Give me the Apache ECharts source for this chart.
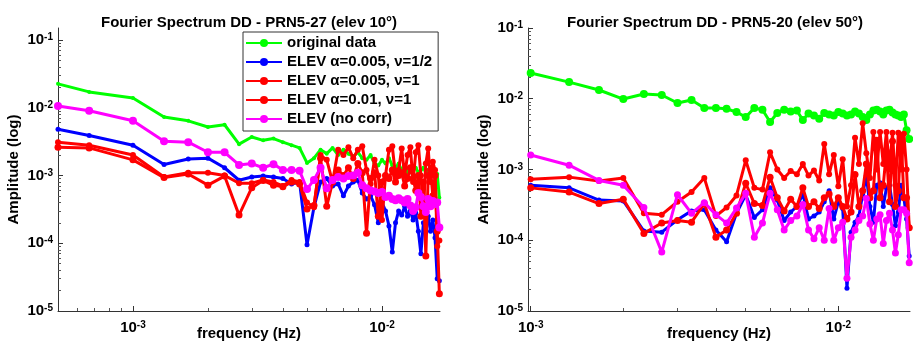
<!DOCTYPE html>
<html><head><meta charset="utf-8">
<script src="https://cdn.jsdelivr.net/npm/echarts@6/dist/echarts.min.js"></script>
<style>html,body{margin:0;padding:0;background:#fff}#c{width:913px;height:344px}</style>
</head><body><div id="c"></div>
<script>
// frequencies (Hz)
const freqL = [0.0005,0.000667,0.001,0.001333,0.001667,0.002,0.002333,0.002667,0.003,0.003333,0.003667,0.004,0.004333,0.004667,0.005,0.005333,0.005667,0.006,0.006333,0.006667,0.007,0.007333,0.007667,0.008,0.008333,0.008667,0.009,0.009333,0.009667,0.01,0.010333,0.010667,0.011,0.011333,0.011667,0.012,0.012333,0.012667,0.013,0.013333,0.013667,0.014,0.014333,0.014667,0.015,0.015333,0.015667,0.016,0.016333,0.016667,0.017];
const freqR = [0.001,0.001333,0.001667,0.002,0.002333,0.002667,0.003,0.003333,0.003667,0.004,0.004333,0.004667,0.005,0.005333,0.005667,0.006,0.006333,0.006667,0.007,0.007333,0.007667,0.008,0.008333,0.008667,0.009,0.009333,0.009667,0.01,0.010333,0.010667,0.011,0.011333,0.011667,0.012,0.012333,0.012667,0.013,0.013333,0.013667,0.014,0.014333,0.014667,0.015,0.015333,0.015667,0.016,0.016333,0.016667,0.017];

const seriesNames = ['original data','ELEV \u03b1=0.005, \u03bd=1/2','ELEV \u03b1=0.005, \u03bd=1','ELEV \u03b1=0.01, \u03bd=1','ELEV (no corr)'];

// Left panel: PRN5-27 (elev 10°)
const greenL = [0.0225,0.0171,0.0139,0.0073,0.0064,0.0052,0.0056,0.0029,0.0037,0.0033,0.0035,0.0031,0.0028,0.00255,0.00153,0.0018,0.0024,0.0021,0.00255,0.0020,0.0024,0.0021,0.0019,0.0022,0.0018,0.0017,0.0020,0.0015,0.0014,0.0017,0.0015,0.0018,0.0014,0.0013,0.0015,0.0012,0.0014,0.0011,0.0013,0.0012,0.0013,0.0011,0.0012,0.0013,0.0011,0.0012,0.0012,0.0010,0.0011,0.00105,0.00047];
const blueL = [0.0048,0.0039,0.0028,0.00145,0.00175,0.0018,0.0013,0.00085,0.00095,0.00098,0.00095,0.0009,0.00075,0.0008,0.000095,0.00034,0.0008,0.0009,0.0007,0.00075,0.0005,0.0007,0.0008,0.00085,0.00055,0.00045,0.0005,0.00037,0.0002,0.0004,0.0003,0.00018,0.000074,0.0002,0.0003,0.00026,0.00035,0.00025,0.0003,0.00022,0.00028,0.00015,0.00007,0.0002,0.00018,0.00025,0.00015,0.00022,0.00012,0.00003,0.000028];
const red1L = [0.0031,0.0028,0.0020,0.00095,0.0011,0.0011,0.0010,0.00077,0.00077,0.00086,0.0008,0.0007,0.00086,0.0008,0.0004,0.00034,0.0020,0.0017,0.0008,0.0024,0.0020,0.0026,0.0018,0.0024,0.0027,0.0012,0.00075,0.0017,0.0010,0.00022,0.0010,0.0024,0.0027,0.0010,0.0012,0.0025,0.0010,0.0020,0.0026,0.0008,0.0022,0.0028,0.0010,0.0003,0.0015,0.0025,0.0008,0.0016,0.0012,0.00009,0.00011];
const red2L = [0.0026,0.00255,0.0017,0.00093,0.00105,0.00072,0.00098,0.00026,0.00066,0.00084,0.00072,0.00068,0.0008,0.00075,0.00032,0.00036,0.0018,0.00035,0.0008,0.0012,0.0010,0.0013,0.0009,0.0015,0.0011,0.00014,0.0009,0.0011,0.00025,0.0008,0.0010,0.0009,0.0012,0.0008,0.0010,0.0011,0.0007,0.0009,0.0013,0.0009,0.0006,0.0010,0.00025,0.0008,0.000065,0.0010,0.0012,0.0005,0.0010,0.00015,0.000018];
const magentaL = [0.0106,0.0090,0.0064,0.0032,0.0031,0.0022,0.0022,0.00143,0.0015,0.0013,0.00147,0.0012,0.0012,0.00117,0.00063,0.00086,0.0013,0.00065,0.00086,0.00095,0.0009,0.00098,0.0010,0.0011,0.00072,0.00065,0.0006,0.00058,0.00055,0.00057,0.00048,0.0005,0.00045,0.00043,0.00046,0.00043,0.0004,0.00045,0.00036,0.0003,0.00034,0.00055,0.00048,0.00035,0.00029,0.00045,0.00035,0.00042,0.00038,0.0004,0.00017];

// Right panel: PRN5-20 (elev 50°)
const greenR = [0.0231,0.0172,0.0133,0.0099,0.0117,0.0113,0.0087,0.0096,0.0074,0.0074,0.0072,0.0065,0.0055,0.0074,0.0070,0.0047,0.0063,0.0070,0.0066,0.0068,0.0050,0.0062,0.0058,0.0052,0.0063,0.0060,0.0058,0.0065,0.0062,0.0058,0.0060,0.0066,0.0062,0.0055,0.0050,0.0060,0.0068,0.0070,0.0066,0.0060,0.0068,0.0070,0.0064,0.0060,0.0058,0.0055,0.0060,0.0036,0.0027];
const blueR = [6.0e-4,5.5e-4,3.7e-4,3.6e-4,1.35e-4,1.3e-4,1.95e-4,2.6e-4,2.7e-4,1.4e-4,9.5e-5,2.4e-4,4.4e-4,2.1e-4,2.7e-4,5.5e-4,3.7e-4,1.9e-4,2.5e-4,3e-4,4.5e-4,2e-4,2.2e-4,2.5e-4,3.5e-4,5e-4,2e-4,3.5e-4,2.8e-4,2.1e-5,1.3e-4,1.8e-4,2.2e-4,4.5e-4,8.2e-4,3e-4,1.8e-4,6e-4,6.5e-4,3e-4,5.5e-4,6e-4,3.2e-4,1.6e-4,2.5e-4,6e-4,4e-4,2e-4,6e-5];
const red1R = [7.3e-4,7.8e-4,6.9e-4,7.6e-4,2.4e-4,2.3e-4,3.5e-4,4.8e-4,7.6e-4,2.2e-4,2.9e-4,4.3e-4,1.35e-3,5.5e-4,5.2e-4,1.75e-3,1.0e-3,7.6e-4,9.5e-4,8.6e-4,1.2e-3,8.2e-4,9.7e-4,7e-4,2.3e-3,8.6e-4,1.6e-3,5.8e-4,1.4e-3,3e-4,6e-4,2.8e-3,1.2e-3,4.5e-3,1.7e-3,7.6e-4,3.4e-3,1.0e-3,3.4e-3,1.2e-3,3.4e-3,1.0e-3,3.3e-3,6e-4,3.3e-3,1.0e-3,3.2e-3,1e-3,1.5e-4];
const red2R = [5.5e-4,4.8e-4,3.3e-4,3.8e-4,1.25e-4,1.75e-4,1.9e-4,1.8e-4,3.3e-4,1.1e-4,1.4e-4,2.4e-4,6.4e-4,3.3e-4,3.1e-4,7.8e-4,4e-4,2.6e-4,3.8e-4,3e-4,5.5e-4,3e-4,3.5e-4,2.8e-4,4e-4,4.5e-4,3e-4,4e-4,3e-4,2e-4,2.5e-4,8.5e-4,3e-4,5e-4,1.2e-3,4e-4,5e-4,2.6e-3,4e-4,6e-4,1.8e-3,3.5e-4,2.5e-3,3e-4,5e-4,3.0e-3,4e-4,4e-4,1.5e-4];
const magentaR = [1.6e-3,1.15e-3,7e-4,6e-4,2.9e-4,6.8e-5,4.4e-4,2.4e-4,3.4e-4,2.3e-4,1.75e-4,2.85e-4,4.6e-4,1.1e-4,1.75e-4,4.6e-4,2.7e-4,1.4e-4,1.9e-4,2.2e-4,3.2e-4,1.4e-4,1.05e-4,1.5e-4,1e-4,2.8e-4,1e-4,1.5e-4,1.8e-4,2.9e-5,1.1e-4,1.4e-4,1.9e-4,2.2e-4,3.9e-4,1.7e-4,1e-4,2e-4,2.3e-4,9e-5,1.9e-4,2.4e-4,1.4e-4,6.6e-5,1.2e-4,2.7e-4,2.7e-4,2.4e-4,4.8e-5];

// tick labels
const yMajor = [1e-5,1e-4,1e-3,1e-2,1e-1];
const xMajorL = [1e-3,1e-2];
const xMajorR = [1e-3,1e-2];

const FONT = '"Liberation Sans", Arial, sans-serif';
const colors = ['#00ff00','#0000ff','#ff0000','#ff0000','#ff00ff'];

function minorTicks(lo, hi){
  const out=[];
  for(let e=-6;e<=0;e++){for(let m=2;m<=9;m++){const v=m*Math.pow(10,e); if(v>lo*1.0001 && v<hi*0.9999) out.push(v);}}
  return out;
}
const rich = {
  b:{fontFamily:FONT,fontWeight:'bold',fontSize:15,color:'#000',verticalAlign:'bottom'},
  s:{fontFamily:FONT,fontWeight:'bold',fontSize:10,color:'#000',verticalAlign:'top'}
};
function fmt(v){const e=Math.round(Math.log10(v));return '{b|10}{s|'+e+'}';}

const LX = {min:0.0005,max:0.0171}, RX={min:0.00098,max:0.0171};
const LY = {min:1e-5,max:0.15}, RY={min:1e-5,max:0.1};

function mainX(grid, r, majors){
  return {type:'log',gridIndex:grid,min:r.min,max:r.max,logBase:10,
    name:'frequency (Hz)',nameLocation:'middle',nameGap:15,nameMoveOverlap:false,
    nameTextStyle:{fontFamily:FONT,fontWeight:'bold',fontSize:15,color:'#000'},
    axisLine:{show:true,onZero:false,lineStyle:{color:'#333',width:1}},
    axisTick:{show:true,inside:true,length:5,customValues:majors,lineStyle:{color:'#333'}},
    axisLabel:{show:true,margin:9,customValues:majors,formatter:fmt,rich:rich},
    splitLine:{show:false},minorTick:{show:false}};
}
function minorX(grid, r){
  return {type:'log',gridIndex:grid,min:r.min,max:r.max,logBase:10,position:'bottom',
    axisLine:{show:false,onZero:false},axisLabel:{show:false},
    axisTick:{show:true,inside:true,length:3,customValues:minorTicks(r.min,r.max),lineStyle:{color:'#555'}},
    splitLine:{show:false}};
}
function mainY(grid, r){
  return {type:'log',gridIndex:grid,min:r.min,max:r.max,logBase:10,
    name:'Amplitude (log)',nameLocation:'middle',nameGap:37,nameMoveOverlap:false,
    nameTextStyle:{fontFamily:FONT,fontWeight:'bold',fontSize:15,color:'#000'},
    axisLine:{show:true,onZero:false,lineStyle:{color:'#333',width:1}},
    axisTick:{show:true,inside:true,length:5,customValues:yMajor,lineStyle:{color:'#333'}},
    axisLabel:{show:true,margin:5,customValues:yMajor,formatter:fmt,rich:rich},
    splitLine:{show:false}};
}
function minorY(grid, r){
  return {type:'log',gridIndex:grid,min:r.min,max:r.max,logBase:10,position:'left',
    axisLine:{show:false,onZero:false},axisLabel:{show:false},
    axisTick:{show:true,inside:true,length:3,customValues:minorTicks(r.min,r.max),lineStyle:{color:'#555'}},
    splitLine:{show:false}};
}

const symL = [4,5,6,7,8];
const symR = [8,5,6,7,7];
function mk(name, idx, freq, vals, xi, yi, sizes){
  return {name:name,type:'line',xAxisIndex:xi,yAxisIndex:yi,
    data:freq.map((f,i)=>[f,vals[i]]),
    symbol:'circle',symbolSize:sizes[idx],showSymbol:true,
    itemStyle:{color:colors[idx]},lineStyle:{color:colors[idx],width:3},
    animation:false,z:2+idx};
}
const dataL=[greenL,blueL,red1L,red2L,magentaL];
const dataR=[greenR,blueR,red1R,red2R,magentaR];
const series=[];
seriesNames.forEach((n,i)=>series.push(mk(n,i,freqL,dataL[i],0,0,symL)));
seriesNames.forEach((n,i)=>series.push(mk(n,i,freqR,dataR[i],2,2,symR)));

const chart = echarts.init(document.getElementById('c'),null,{renderer:'canvas'});
chart.setOption({
  animation:false,
  backgroundColor:'#fff',
  title:[
    {text:'Fourier Spectrum DD - PRN5-27 (elev 10\u00b0)',left:96,top:10,textStyle:{fontFamily:FONT,fontWeight:'bold',fontSize:15,color:'#000'}},
    {text:'Fourier Spectrum DD - PRN5-20 (elev 50\u00b0)',left:562,top:10,textStyle:{fontFamily:FONT,fontWeight:'bold',fontSize:15,color:'#000'}}
  ],
  grid:[
    {left:58,right:473,top:28,bottom:33,containLabel:false,outerBoundsMode:'none'},
    {left:528,right:3,top:28,bottom:33,containLabel:false,outerBoundsMode:'none'}
  ],
  xAxis:[mainX(0,LX,xMajorL),minorX(0,LX),mainX(1,RX,xMajorR),minorX(1,RX)],
  yAxis:[mainY(0,LY),minorY(0,LY),mainY(1,RY),minorY(1,RY)],
  legend:{orient:'vertical',left:243,top:32,data:seriesNames,
    itemWidth:36,itemHeight:10,itemGap:3,
    padding:[3,6,4,2],borderColor:'#333',borderWidth:1,backgroundColor:'#fff',
    textStyle:{fontFamily:FONT,fontWeight:'bold',fontSize:15,color:'#000',lineHeight:16},
    selectedMode:false},
  series:series
});
</script></body></html>
